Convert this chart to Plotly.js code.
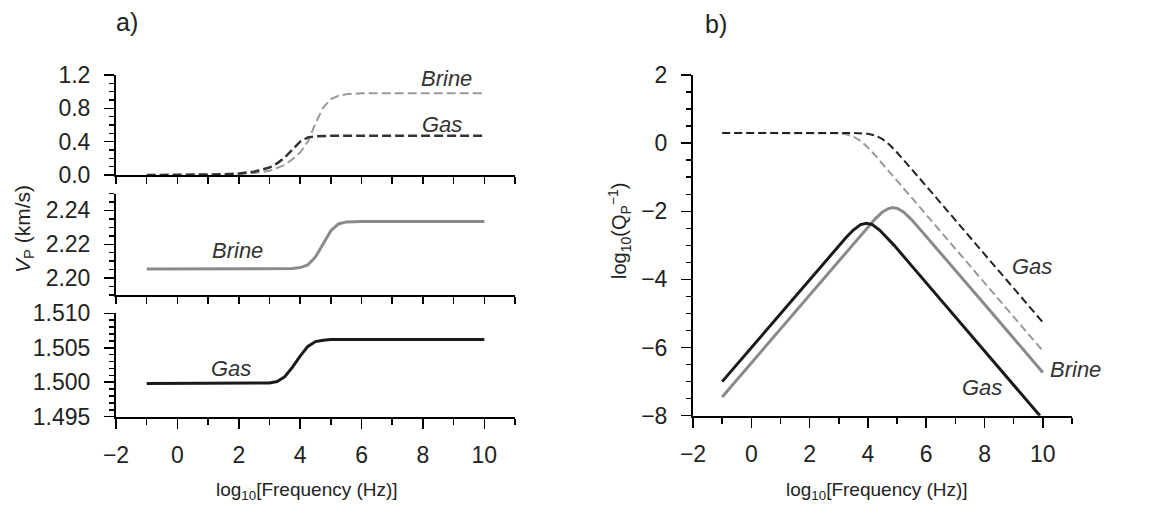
<!DOCTYPE html>
<html>
<head>
<meta charset="utf-8">
<script src="https://cdn.plot.ly/plotly-3.0.1.min.js"></script>
<style>html,body{margin:0;padding:0;background:#fff;}#chart{width:1171px;height:508px;}</style>
</head>
<body>
<div id="chart"></div>
<script>
// ---- Data ----
// Panel a, top: velocity change (dashed)
const topGasX   = [-1, 0, 1, 1.5, 2, 2.5, 3, 3.25, 3.5, 3.75, 4, 4.25, 4.5, 5, 6, 10];
const topGasY   = [0, 0, 0.004, 0.008, 0.017, 0.04, 0.09, 0.14, 0.21, 0.31, 0.40, 0.45, 0.465, 0.47, 0.47, 0.47];
const topBrineX = [-1, 0, 1, 2, 2.5, 3, 3.5, 3.75, 4, 4.25, 4.5, 4.75, 5, 5.25, 5.5, 6, 10];
const topBrineY = [0, 0, 0.002, 0.01, 0.025, 0.05, 0.12, 0.19, 0.27, 0.40, 0.62, 0.81, 0.91, 0.95, 0.97, 0.98, 0.98];
// Panel a, middle: brine velocity (km/s)
const midBrineX = [-1, 3.5, 3.75, 4, 4.25, 4.5, 4.75, 5, 5.25, 5.5, 6, 10];
const midBrineY = [2.2053, 2.2054, 2.2056, 2.2062, 2.2078, 2.2125, 2.2205, 2.2280, 2.2320, 2.2332, 2.2335, 2.2335];
// Panel a, bottom: gas velocity (km/s)
const botGasX = [-1, 3, 3.25, 3.5, 3.75, 4, 4.25, 4.5, 4.75, 5, 10];
const botGasY = [1.4998, 1.4999, 1.5001, 1.5008, 1.5022, 1.5038, 1.5052, 1.5059, 1.5061, 1.5062, 1.5062];
// Panel b: log10(Qp^-1)
const qGasDashX   = [-1, 0, 1, 2, 3, 3.5, 4, 4.25, 4.5, 4.75, 5, 5.5, 6, 7, 8, 9, 10];
const qGasDashY   = [0.30, 0.30, 0.30, 0.30, 0.30, 0.297, 0.273, 0.224, 0.117, -0.057, -0.276, -0.762, -1.26, -2.26, -3.26, -4.26, -5.26];
const qBrineDashX = [-1, 0, 1, 2, 2.5, 3, 3.25, 3.5, 3.75, 4, 4.25, 4.5, 5, 5.5, 6, 7, 8, 9, 10];
const qBrineDashY = [0.30, 0.30, 0.30, 0.30, 0.299, 0.287, 0.26, 0.194, 0.062, -0.13, -0.361, -0.603, -1.10, -1.60, -2.10, -3.10, -4.10, -5.10, -6.10];
const qGasX   = [-1, 0, 1, 2, 2.5, 3, 3.25, 3.5, 3.75, 3.95, 4.15, 4.4, 4.65, 4.9, 5.4, 5.9, 7, 8, 9, 9.9];
const qGasY   = [-7.0, -6.0, -5.0, -4.0, -3.5, -3.0, -2.77, -2.55, -2.39, -2.35, -2.39, -2.55, -2.77, -3.0, -3.5, -4.0, -5.1, -6.1, -7.1, -8.0];
const qBrineX = [-1, 0, 1, 2, 3, 3.5, 4, 4.25, 4.5, 4.7, 4.86, 5.02, 5.22, 5.47, 5.72, 6.22, 6.72, 7.72, 8, 9, 10];
const qBrineY = [-7.45, -6.45, -5.45, -4.45, -3.45, -2.95, -2.46, -2.22, -2.02, -1.92, -1.89, -1.92, -2.02, -2.22, -2.46, -2.95, -3.45, -4.45, -4.73, -5.73, -6.73];

const FONT = 'Liberation Sans, Arial, Helvetica, sans-serif';
const DARK = '#1a1a1a', GREY = '#8a8a8a', LGREY = '#9a9a9a';

const traces = [
  {x: topBrineX, y: topBrineY, xaxis: 'x', yaxis: 'y', mode: 'lines', line: {color: LGREY, width: 2, dash: '9px,4px'}},
  {x: topGasX, y: topGasY, xaxis: 'x', yaxis: 'y', mode: 'lines', line: {color: '#333', width: 2.5, dash: '9px,4px'}},
  {x: midBrineX, y: midBrineY, xaxis: 'x2', yaxis: 'y2', mode: 'lines', line: {color: GREY, width: 3}},
  {x: botGasX, y: botGasY, xaxis: 'x3', yaxis: 'y3', mode: 'lines', line: {color: DARK, width: 3}},
  {x: qBrineDashX, y: qBrineDashY, xaxis: 'x4', yaxis: 'y4', mode: 'lines', line: {color: LGREY, width: 2, dash: '8px,4px'}},
  {x: qGasDashX, y: qGasDashY, xaxis: 'x4', yaxis: 'y4', mode: 'lines', line: {color: '#222', width: 2, dash: '8px,4px'}},
  {x: qBrineX, y: qBrineY, xaxis: 'x4', yaxis: 'y4', mode: 'lines', line: {color: GREY, width: 3}},
  {x: qGasX, y: qGasY, xaxis: 'x4', yaxis: 'y4', mode: 'lines', line: {color: DARK, width: 3}}
];

const tickFont = {family: FONT, size: 23, color: '#222'};
function xAx(anchor, dom, labels) {
  const a = {
    domain: dom, anchor: anchor, range: [-2, 11], showgrid: false, zeroline: false,
    showline: true, linecolor: '#000', linewidth: 2, ticks: 'outside', tickcolor: '#000',
    tickfont: tickFont, fixedrange: true
  };
  if (labels) {
    Object.assign(a, {dtick: 2, tick0: 0, ticklen: 10, tickwidth: 1.5, ticklabelstandoff: 7,
      minor: {dtick: 1, tick0: 0, ticks: 'outside', ticklen: 6, tickcolor: '#000', tickwidth: 1.5}});
  } else {
    Object.assign(a, {dtick: 1, tick0: 0, ticklen: 7, tickwidth: 1.5, showticklabels: false});
  }
  return a;
}
function yAx(anchor, dom, range, t0, dtick, minor, fmt) {
  return {
    domain: dom, anchor: anchor, range: range, dtick: dtick, tick0: t0, tickformat: fmt,
    showgrid: false, zeroline: false, showline: true, linecolor: '#000', linewidth: 2,
    ticks: 'outside', ticklen: 10, tickwidth: 1.5, tickcolor: '#000', tickfont: tickFont,
    ticklabelstandoff: 9, fixedrange: true,
    minor: {dtick: minor, tick0: t0, ticks: 'outside', ticklen: 5, tickcolor: '#000', tickwidth: 1.5}
  };
}

const LX = [116/1171, 515/1171], RX = [693/1171, 1072/1171];
const annFont = {family: FONT, size: 22, color: '#333'};
function ann(text, xref, yref, x, y, opts) {
  return Object.assign({text: text, xref: xref, yref: yref, x: x, y: y, showarrow: false,
    xanchor: 'center', yanchor: 'middle', font: annFont}, opts || {});
}

const layout = {
  width: 1171, height: 508, margin: {l: 0, r: 0, t: 0, b: 0},
  paper_bgcolor: '#fff', plot_bgcolor: 'rgba(0,0,0,0)', showlegend: false,
  xaxis: xAx('y', LX, false),
  xaxis2: xAx('y2', LX, false),
  xaxis3: xAx('y3', LX, true),
  xaxis4: xAx('y4', RX, true),
  yaxis: yAx('x', [1 - 175/508, 1 - 75/508], [0, 1.2], 0, 0.4, 0.1, '.1f'),
  yaxis2: yAx('x2', [1 - 295/508, 1 - 193.5/508], [2.19, 2.25], 2.2, 0.02, 0.005, '.2f'),
  yaxis3: yAx('x3', [1 - 416.7/508, 1 - 313.3/508], [1.495, 1.510], 1.495, 0.005, 0.001, '.3f'),
  yaxis4: yAx('x4', [1 - 415.7/508, 1 - 75/508], [-8, 2], -8, 2, 0.5, 'd'),
  annotations: [
    ann('<i>Brine</i>', 'x', 'y', 8.78, 1.16),
    ann('<i>Gas</i>', 'x', 'y', 8.62, 0.6),
    ann('<i>Brine</i>', 'x2', 'y2', 1.95, 2.2166),
    ann('<i>Gas</i>', 'x3', 'y3', 1.76, 1.50206),
    ann('<i>Gas</i>', 'x4', 'y4', 9.62, -3.62),
    ann('<i>Brine</i>', 'x4', 'y4', 10.17, -6.64, {xanchor: 'left'}),
    ann('<i>Gas</i>', 'x4', 'y4', 7.91, -7.16),
    ann('a)', 'paper', 'paper', 127/1171, 1 - 22/508, {font: {family: FONT, size: 25, color: '#222'}}),
    ann('b)', 'paper', 'paper', 716/1171, 1 - 24/508, {font: {family: FONT, size: 25, color: '#222'}}),
    ann('<i>V</i><sub>P</sub> (km/s)', 'paper', 'paper', 24/1171, 1 - 229/508, {textangle: -90, font: {family: FONT, size: 21, color: '#222'}}),
    ann('log<sub>10</sub>(Q<sub>P</sub><sup>−1</sup>)', 'paper', 'paper', 619/1171, 1 - 231/508, {textangle: -90, font: {family: FONT, size: 20, color: '#222'}}),
    ann('log<sub>10</sub>[Frequency (Hz)]', 'paper', 'paper', 307/1171, 1 - 491/508, {font: {family: FONT, size: 19, color: '#222'}}),
    ann('log<sub>10</sub>[Frequency (Hz)]', 'paper', 'paper', 877/1171, 1 - 491/508, {font: {family: FONT, size: 19, color: '#222'}})
  ]
};

Plotly.newPlot('chart', traces, layout, {staticPlot: true, displayModeBar: false});
</script>
</body>
</html>
